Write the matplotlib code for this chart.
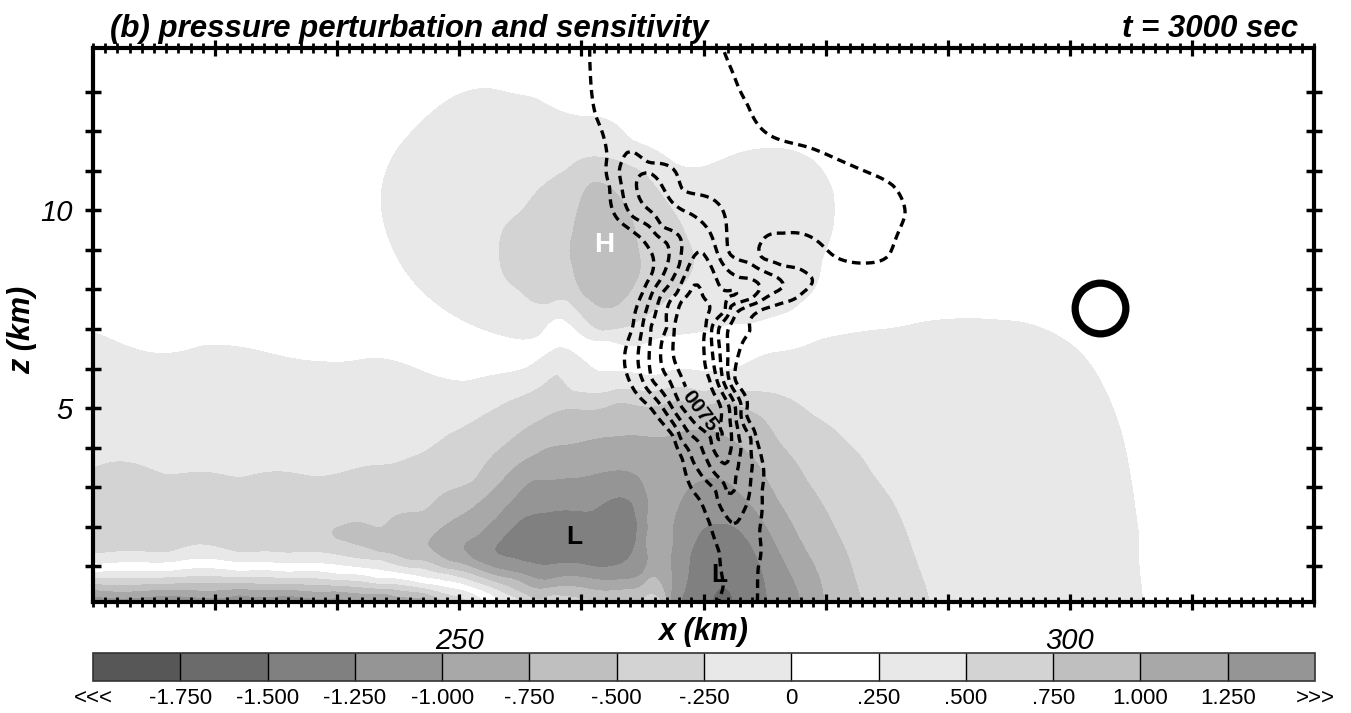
import numpy as np
import matplotlib
matplotlib.use('Agg')
import matplotlib.pyplot as plt
from matplotlib.path import Path
from matplotlib.ticker import MultipleLocator

plt.rcParams['font.family'] = ['Liberation Sans', 'DejaVu Sans']

# ---------------------------------------------------------------------------
# pressure perturbation: points read along each shaded boundary, (x km, z km)
P_P125 = [(219.8, 0.24), (226.0, 0.25), (232.0, 0.26), (236.0, 0.24), (240.0, 0.20), (243.0, 0.12)]
P_P100 = [(219.8, 0.39), (226.0, 0.40), (232.0, 0.41), (236.0, 0.39), (240.0, 0.35), (244.0, 0.29),
          (247.0, 0.18), (247.8, 0.05)]
P_P075 = [(219.8, 0.54), (226.0, 0.55), (232.0, 0.56), (236.0, 0.54), (240.0, 0.50), (244.0, 0.42),
          (247.0, 0.31), (249.0, 0.05),
          (259.3, 9.43), (259.8, 10.1), (260.9, 10.70), (262.2, 10.6), (263.4, 10.2), (264.6, 9.08),
          (264.2, 8.06), (263.3, 7.7), (262.1, 7.53), (260.1, 7.91), (259.3, 8.57)]
P_P050 = [(219.8, 0.70), (226.0, 0.71), (232.0, 0.72), (236.0, 0.70), (240.0, 0.64), (244.0, 0.55),
          (247.0, 0.44), (250.0, 0.22), (250.8, 0.05),
          (253.3, 8.92), (253.8, 9.6), (255.2, 10.01), (256.8, 10.6), (258.8, 11.03), (261.7, 11.33),
          (265.0, 10.95), (267.0, 10.2), (268.6, 9.33), (269.1, 8.57), (267.5, 7.9), (265.6, 7.41),
          (263.5, 7.05), (261.7, 6.97), (260.2, 7.3), (258.8, 7.73), (257.3, 7.65), (255.2, 7.91),
          (253.8, 8.3)]
P_P025 = [(219.8, 0.85), (226.0, 0.86), (232.0, 0.87), (236.0, 0.85), (240.0, 0.80), (243.5, 0.68),
          (247.0, 0.56), (248.9, 0.47), (251.0, 0.32), (252.3, 0.05),
          (243.6, 10.27), (244.5, 9.08), (247.8, 7.73), (251.5, 7.05), (254.1, 6.80), (256.5, 6.85),
          (258.0, 7.28), (259.5, 7.0), (262.0, 6.72), (266.0, 6.75), (270.0, 6.95), (273.8, 7.15),
          (277.0, 7.45), (279.0, 8.0), (279.7, 8.74), (280.6, 9.6), (280.6, 10.44), (279.2, 11.2),
          (276.5, 11.55), (273.0, 11.45), (270.0, 11.1), (267.8, 11.16), (264.0, 11.8), (260.1, 12.37),
          (256.0, 12.85), (252.5, 13.07), (249.2, 12.8), (246.5, 12.1), (244.3, 11.2)]
P_000 = [(219.8, 1.08), (226.0, 1.09), (232.0, 1.10), (236.0, 1.08), (240.0, 1.03), (243.5, 0.90),
         (247.0, 0.72), (248.9, 0.62), (251.0, 0.46), (252.7, 0.25), (253.5, 0.05),
         (219.8, 6.97), (229.0, 6.6), (241.0, 6.2), (250.6, 5.71), (255.5, 6.05), (258.0, 6.54),
         (261.5, 5.95), (266.0, 5.85), (271.0, 5.95), (275.3, 6.4), (279.5, 6.75), (283.6, 6.98),
         (288.0, 7.2), (292.6, 7.28), (296.0, 7.2), (298.6, 6.93), (301.0, 6.4), (302.2, 5.91),
         (303.5, 5.1), (304.3, 4.4), (305.2, 3.0), (305.7, 1.84), (305.9, 0.6), (306.0, 0.05)]
P_M025 = [(219.8, 1.33), (226.0, 1.34), (232.0, 1.35), (236.0, 1.33), (240.0, 1.28), (243.5, 1.15),
          (247.0, 0.93), (248.9, 0.80), (251.0, 0.62), (254.4, 0.22), (255.2, 0.05),
          (219.8, 3.48), (226.0, 3.35), (232.0, 3.27), (238.0, 3.3), (244.3, 3.6), (247.0, 3.9),
          (249.2, 4.37), (252.0, 4.85), (254.1, 5.2), (256.8, 5.6), (258.0, 5.85), (259.3, 5.46),
          (262.0, 5.42), (266.0, 5.45), (270.0, 5.45), (273.0, 5.45), (276.2, 5.36), (279.0, 4.85),
          (281.7, 4.19), (283.8, 3.4), (285.5, 2.67), (287.0, 1.6), (288.5, 0.22), (288.6, 0.05)]
P_M050 = [(240.0, 1.67), (243.5, 2.0), (247.0, 2.42), (251.1, 3.18), (254.1, 4.19), (256.5, 4.7),
          (259.3, 5.0), (263.0, 5.15), (268.0, 5.2), (272.0, 5.2), (274.5, 4.85), (276.2, 4.19),
          (278.5, 3.2), (280.5, 2.2), (282.0, 1.2), (282.9, 0.25), (283.0, 0.05),
          (243.5, 1.35), (246.0, 1.15), (248.9, 0.93), (251.0, 0.80), (254.4, 0.42), (257.5, 0.25),
          (260.5, 0.15), (263.5, 0.15), (265.5, 0.28), (266.3, 0.2), (266.6, 0.05)]
P_M075 = [(247.5, 1.66), (249.5, 2.2), (251.7, 2.67), (253.5, 3.2), (255.2, 3.68), (257.1, 4.0),
          (259.3, 4.11), (263.0, 4.3), (267.0, 4.3), (272.0, 4.27), (274.5, 3.6), (276.2, 2.67),
          (278.3, 1.5), (279.9, 0.25), (280.0, 0.05),
          (247.6, 1.45), (250.3, 1.05), (254.4, 0.68), (259.8, 0.47), (264.8, 0.47), (265.6, 0.7),
          (266.4, 0.6), (266.8, 0.3), (267.0, 0.05)]
P_M100 = [(250.4, 1.40), (251.5, 1.8), (253.0, 2.24), (254.5, 2.75), (256.0, 3.18), (259.8, 3.26),
          (262.6, 3.43), (264.6, 3.3), (265.3, 2.9), (265.4, 2.2), (265.3, 1.66), (265.0, 0.81),
          (262.6, 0.65), (257.1, 0.65), (254.4, 0.85), (253.0, 0.95), (251.3, 1.15),
          (267.2, 0.05), (267.3, 1.0), (267.5, 2.08), (268.6, 2.92), (270.0, 3.2), (271.0, 3.25),
          (273.5, 2.7), (275.2, 2.0), (276.2, 1.4), (277.2, 0.8), (277.9, 0.25), (278.0, 0.05)]
P_M125 = [(252.9, 1.40), (254.9, 2.16), (257.1, 2.37), (260.9, 2.42), (262.9, 2.75), (264.2, 2.59),
          (264.6, 2.08), (264.5, 1.66), (263.7, 1.15), (261.2, 0.98), (257.1, 1.03), (254.4, 1.2),
          (268.6, 0.05), (268.6, 0.6), (268.9, 1.3), (269.8, 1.9), (271.2, 2.09), (272.6, 2.0),
          (273.8, 1.6), (274.7, 1.0), (275.2, 0.3), (275.3, 0.05)]
P_M150 = [(270.7, 0.05), (270.9, 0.3), (271.6, 0.47), (272.2, 0.35), (272.4, 0.05)]

# single readings inside the bands, (x km, z km, value)
P_INNER = [(219.8, 0.05, 1.45), (232.0, 0.05, 1.42), (240.0, 0.05, 1.32), (244.0, 0.05, 1.2),
           (256.5, 0.05, -0.42), (262.0, 0.05, -0.47), (265.3, 0.05, -0.45),
           (259.2, 1.75, -1.4), (271.6, 0.05, -1.62), (266.3, 1.5, -0.9), (266.3, 2.8, -0.92),
           (266.0, 3.7, -0.85),
           (219.8, 2.0, -0.36), (228.0, 2.0, -0.38), (236.0, 1.9, -0.42), (219.8, 2.8, -0.36),
           (228.0, 2.8, -0.36), (240.0, 1.5, -0.4),
           (241.5, 1.67, -0.55), (243.5, 1.68, -0.62), (246.0, 1.7, -0.7),
           (240.0, 2.3, -0.42), (236.0, 2.6, -0.38), (244.0, 2.6, -0.44), (248.0, 3.2, -0.42),
           (219.8, 5.2, -0.13), (232.0, 5.1, -0.15), (243.0, 5.2, -0.17), (265.0, 5.65, -0.12),
           (272.0, 5.7, -0.12), (283.0, 5.9, -0.12), (290.0, 5.5, -0.14), (292.0, 3.5, -0.14),
           (298.0, 1.5, -0.08), (296.0, 6.4, -0.07), (300.5, 4.5, -0.06), (297.0, 0.05, -0.12),
           (284.0, 1.0, -0.38), (280.5, 3.8, -0.38), (277.5, 2.6, -0.65), (252.5, 3.3, -0.62),
           (257.0, 3.5, -0.87), (259.0, 2.9, -1.12), (271.0, 1.2, -1.38), (270.0, 2.7, -1.12),
           (261.9, 9.1, 0.9), (249.0, 10.4, 0.4), (250.5, 12.2, 0.33), (256.0, 9.0, 0.62),
           (262.3, 11.8, 0.37), (266.7, 8.3, 0.62), (272.0, 8.2, 0.4), (274.5, 9.6, 0.38),
           (277.5, 10.2, 0.33), (271.0, 10.6, 0.35), (276.0, 8.0, 0.32)]
# readings in the white (0 .. .25) area
P_WHITE = [(219.8, 14.15), (232.0, 14.15), (244.0, 14.15), (256.0, 14.15), (268.0, 14.15),
           (280.0, 14.15), (292.0, 14.15), (306.0, 14.15), (320.2, 14.15), (320.2, 11.0),
           (320.2, 8.0), (320.2, 5.0), (320.2, 2.0), (320.2, 0.05), (313.0, 0.05), (312.0, 3.5),
           (310.0, 7.0), (304.0, 9.5), (292.0, 10.5), (287.0, 12.5), (270.0, 12.8), (285.5, 9.5),
           (219.8, 11.5), (219.8, 8.5), (219.8, 10.0), (230.0, 12.5), (232.0, 9.5), (236.0, 7.6),
           (228.0, 7.3), (242.0, 13.5), (226.0, 13.5), (226.0, 9.5), (226.0, 11.5), (238.0, 11.5),
           (238.0, 9.5), (240.0, 8.0), (246.0, 13.8), (256.0, 13.6), (264.0, 13.0), (276.0, 13.0),
           (283.0, 12.0), (300.0, 12.5), (312.0, 12.5), (312.0, 10.0), (298.0, 9.0), (306.0, 7.5),
           (314.0, 6.0), (316.0, 2.0), (310.0, 1.5), (284.0, 10.5), (288.0, 8.5),
           (251.0, 6.4), (258.0, 6.9), (263.0, 6.3), (268.0, 6.35), (273.0, 6.7), (279.3, 7.25),
           (284.5, 7.9), (296.0, 8.3)]
WHITE_VALUE = 0.12

# sensitivity (dashed lines): points, (x km, z km)
S_C1 = [(260.7, 14.15), (260.8, 13.1), (261.2, 12.37), (262.1, 11.35), (262.3, 10.6), (263.7, 9.58),
        (265.6, 9.0), (265.8, 8.42), (265.0, 7.91), (264.2, 7.05), (263.9, 5.71), (265.6, 5.03),
        (267.6, 4.24), (268.3, 3.68), (269.1, 2.92), (270.5, 2.09), (271.3, 1.33), (271.6, 0.47),
        (271.2, 0.05), (274.4, 0.05), (274.5, 1.0), (274.6, 1.9), (274.8, 2.9), (274.8, 3.68),
        (274.3, 4.24), (273.5, 4.87), (272.6, 5.7), (272.9, 6.4), (273.8, 6.95), (274.8, 7.49),
        (276.5, 7.66), (278.1, 7.91), (278.9, 8.16), (278.4, 8.42), (276.5, 8.6), (274.8, 8.8),
        (274.7, 9.17), (276.5, 9.42), (279.2, 9.25), (281.4, 8.74), (283.6, 8.67), (285.2, 8.87),
        (286.5, 9.89), (285.6, 10.6), (282.0, 11.15), (278.5, 11.6), (275.4, 11.9), (273.6, 12.67),
        (272.5, 13.4), (271.5, 14.15)]
S_C2 = [(263.1, 11.0), (263.7, 11.45), (265.6, 11.2), (268.3, 10.52), (270.8, 10.27), (271.9, 9.43),
        (272.1, 8.92), (273.8, 8.66), (276.0, 8.31), (276.5, 8.06), (275.2, 7.81), (273.8, 7.6),
        (272.6, 7.35), (272.1, 7.05), (272.1, 5.71), (273.1, 5.03), (273.9, 4.24), (274.0, 3.6),
        (273.8, 2.92), (273.2, 2.34), (272.5, 2.08), (271.0, 2.9), (269.1, 3.68), (268.1, 4.24),
        (266.6, 5.03), (265.0, 5.71), (265.0, 7.05), (265.8, 7.91), (267.0, 8.6), (267.0, 9.16),
        (265.6, 9.58), (264.2, 9.84)]
S_C3 = [(264.6, 10.8), (265.5, 10.95), (267.0, 10.4), (269.0, 9.9), (270.6, 9.4), (271.3, 8.8),
        (273.0, 8.3), (274.6, 8.0), (273.8, 7.75), (272.2, 7.55), (271.3, 7.05), (271.6, 5.71),
        (272.6, 5.03), (272.9, 4.24), (272.9, 3.68), (272.7, 3.35), (271.9, 2.88), (270.3, 3.68),
        (269.3, 4.24), (267.4, 5.03), (265.8, 5.71), (265.7, 7.05), (266.6, 7.9), (268.0, 8.6),
        (268.2, 9.2), (266.6, 9.6), (265.2, 10.1)]
S_C4 = [(271.9, 3.6), (270.6, 4.24), (268.2, 5.03), (267.2, 5.71), (267.0, 7.05), (267.8, 7.9),
        (268.8, 8.6), (269.8, 8.95), (270.6, 8.6), (271.5, 8.0), (272.6, 7.85), (271.8, 7.5),
        (270.7, 7.05), (271.1, 5.71), (272.1, 5.03), (272.3, 4.24)]
S_C5 = [(271.1, 4.24), (269.6, 5.03), (268.3, 5.71), (267.6, 7.05), (268.2, 7.7), (269.2, 8.1),
        (270.0, 7.8), (270.2, 7.05), (270.5, 5.71), (271.4, 5.03)]
S_INNER = [(270.4, 5.0, 0.0085), (269.3, 6.4, 0.0085), (269.0, 7.4, 0.0082),
           (273.0, 0.05, 0.0022), (273.0, 1.2, 0.0025), (266.5, 13.8, 0.0022), (267.5, 12.3, 0.0024),
           (268.5, 11.2, 0.0026), (280.0, 10.3, 0.0022), (277.0, 10.6, 0.0024), (277.6, 8.1, 0.0022),
           (277.0, 8.85, 0.001)]

PRESSURE_LEVELS = [-3.0, -1.75, -1.5, -1.25, -1.0, -0.75, -0.5, -0.25, 0.0, 0.25, 0.5, 0.75, 1.0, 1.25, 3.0]
GRAYS = ['#575757', '#6b6b6b', '#808080', '#959595', '#a8a8a8', '#bfbfbf', '#d3d3d3', '#e8e8e8',
         '#ffffff', '#e8e8e8', '#d3d3d3', '#bfbfbf', '#a8a8a8', '#959595']
CBAR_LABELS = ['<<<', '-1.750', '-1.500', '-1.250', '-1.000', '-.750', '-.500', '-.250', '0',
               '.250', '.500', '.750', '1.000', '1.250', '>>>']
SENS_LEVELS = [0.0015, 0.003, 0.0045, 0.006, 0.0075]

H_MARK = (261.9, 9.13)
L_MARKS = [(259.4, 1.73), (271.3, 0.77)]
CIRCLE = (302.5, 7.53)
ZSCALE = 3.2


def gather(groups, inner):
    rows = []
    for level, pts in groups:
        rows += [(x, z, level) for x, z in pts]
    rows += list(inner)
    arr = np.array(rows, dtype=float)
    _, idx = np.unique(np.round(arr[:, :2], 3), axis=0, return_index=True)
    return arr[np.sort(idx)]


def tps(r2):
    return np.where(r2 > 0, 0.5 * r2 * np.log(np.maximum(r2, 1e-12)), 0.0)


def smooth_field(samples, gx, gz, lam=0.01):
    # thin-plate surface through the readings (z stretched to the plot aspect)
    sx, sz, sv = samples[:, 0], samples[:, 1] * ZSCALE, samples[:, 2]
    n = len(sv)
    k = tps((sx[:, None] - sx[None, :]) ** 2 + (sz[:, None] - sz[None, :]) ** 2)
    poly = np.column_stack([np.ones(n), sx, sz])
    a = np.zeros((n + 3, n + 3))
    a[:n, :n] = k + lam * np.eye(n)
    a[:n, n:] = poly
    a[n:, :n] = poly.T
    coef = np.linalg.solve(a, np.concatenate([sv, np.zeros(3)]))
    w, c = coef[:n], coef[n:]
    qx, qz = gx.ravel(), gz.ravel() * ZSCALE
    out = np.empty(qx.size)
    for i in range(0, qx.size, 4000):
        bx, bz = qx[i:i + 4000], qz[i:i + 4000]
        r2 = (bx[:, None] - sx[None, :]) ** 2 + (bz[:, None] - sz[None, :]) ** 2
        out[i:i + 4000] = tps(r2) @ w + c[0] + c[1] * bx + c[2] * bz
    return out.reshape(gx.shape)


p_samples = gather([(1.25, P_P125), (1.0, P_P100), (0.75, P_P075), (0.5, P_P050), (0.25, P_P025),
                    (0.0, P_000), (-0.25, P_M025), (-0.5, P_M050), (-0.75, P_M075),
                    (-1.0, P_M100), (-1.25, P_M125), (-1.5, P_M150), (WHITE_VALUE, P_WHITE)], P_INNER)

# outside the outermost dashed line the sensitivity is taken as zero
c1 = np.array(S_C1)
c1_path = Path(np.vstack([c1, c1[:1]]))
lat = np.array([(x, z) for x in np.arange(220.0, 321.0, 4.0) for z in np.arange(0.05, 14.3, 1.0)])
dist = np.sqrt(((lat[:, None, 0] - c1[None, :, 0]) ** 2
                + ((lat[:, None, 1] - c1[None, :, 1]) * ZSCALE) ** 2).min(axis=1))
keep = (~c1_path.contains_points(lat)) & (dist > 2.5)
s_zero = [(x, z, 0.0) for x, z in lat[keep]]
s_samples = gather(list(zip(SENS_LEVELS, [S_C1, S_C2, S_C3, S_C4, S_C5])), S_INNER + s_zero)

gx, gz = np.meshgrid(np.linspace(220, 320, 401), np.linspace(0.1, 14.1, 211))
pres = smooth_field(p_samples, gx, gz)
sens = smooth_field(s_samples * np.array([1, 1, 1000.0]), gx, gz) / 1000.0

fig = plt.figure(figsize=(13.51, 7.13), dpi=100)
ax = fig.add_axes([93 / 1351, 111 / 713, 1221 / 1351, 554 / 713])

cf = ax.contourf(gx, gz, np.clip(pres, -2.9, 2.9), levels=PRESSURE_LEVELS, colors=GRAYS)
cs = ax.contour(gx, gz, sens, levels=SENS_LEVELS, colors='black', linewidths=2.4,
                linestyles=[(0, (2.6, 1.6))])
lbl = ax.clabel(cs, fmt=lambda v: '0075', manual=[(269.5, 4.9)], inline=True, fontsize=15)
for t in lbl:
    t.set_fontweight('bold')

ax.text(H_MARK[0], H_MARK[1], 'H', color='white', fontsize=20, fontweight='bold',
        ha='center', va='center')
for lx, lz in L_MARKS:
    ax.text(lx, lz, 'L', color='black', fontsize=19, fontweight='bold', ha='center', va='center')
ax.plot([CIRCLE[0]], [CIRCLE[1]], marker='o', ms=36.5, mfc='none', mec='black', mew=5.2)

ax.set_xlim(220, 320)
ax.set_ylim(0.1, 14.1)
xt = np.arange(230, 320, 10)
ax.set_xticks(xt)
ax.set_xticklabels([str(v) if v in (250, 300) else '' for v in xt])
ax.xaxis.set_minor_locator(MultipleLocator(1))
yt = np.arange(1, 14)
ax.set_yticks(yt)
ax.set_yticklabels([str(v) if v in (5, 10) else '' for v in yt])
ax.tick_params(axis='x', which='major', direction='inout', length=12, width=2.3,
               top=True, bottom=True, labelsize=21, pad=12)
ax.tick_params(axis='x', which='minor', direction='inout', length=6.5, width=2.0, top=True, bottom=True)
ax.tick_params(axis='y', which='major', direction='inout', length=12, width=2.5,
               left=True, right=True, labelsize=21, pad=8.4)
for tl in ax.get_xticklabels() + ax.get_yticklabels():
    tl.set_style('italic')
for sp in ax.spines.values():
    sp.set_linewidth(3)

fig.text(110 / 1351, 1 - 37 / 713, '(b) pressure perturbation and sensitivity', fontsize=22.5,
         fontweight='bold', style='italic', ha='left', va='baseline')
fig.text(1298 / 1351, 1 - 37 / 713, 't = 3000 sec', fontsize=22.5, fontweight='bold',
         style='italic', ha='right', va='baseline')
fig.text(703 / 1351, 1 - 640 / 713, 'x (km)', fontsize=22, fontweight='bold', style='italic',
         ha='center', va='baseline')
fig.text(22 / 1351, 1 - 330 / 713, 'z (km)', fontsize=22, fontweight='bold', style='italic',
         ha='center', va='center', rotation=90)

cax = fig.add_axes([93 / 1351, 32 / 713, 1222 / 1351, 28 / 713])
cb = fig.colorbar(cf, cax=cax, orientation='horizontal', drawedges=True, ticks=PRESSURE_LEVELS)
cb.ax.set_xticklabels(CBAR_LABELS)
cb.ax.tick_params(length=0, labelsize=16, pad=5)
cb.outline.set_linewidth(1.2)
cb.outline.set_edgecolor('#333333')
cb.dividers.set_color('black')
cb.dividers.set_linewidth(1.0)

fig.savefig('out.png', dpi=100)
